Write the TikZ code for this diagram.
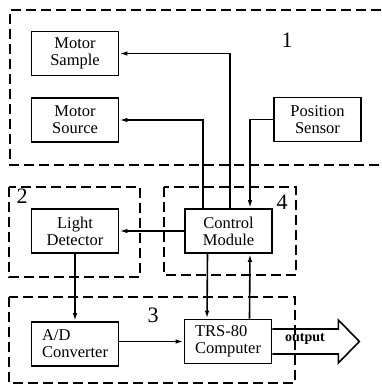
\documentclass[tikz,border=0pt]{standalone}
\usepackage{fontspec}
\setmainfont{Liberation Serif}
\usetikzlibrary{arrows.meta}
\tikzset{block/.style={draw,line width=1.7pt,align=center,minimum width=87pt,minimum height=44pt,inner sep=1pt,font=\fontsize{16.5}{17}\selectfont},
group/.style={draw,dash pattern=on 10pt off 5pt,line width=1.5pt},
tag/.style={font=\fontsize{22}{22}\selectfont}}

\begin{document}
\begin{tikzpicture}[x=1pt,y=-1pt,line width=1.6pt,>={Latex[length=8pt,width=4.5pt]}]
\useasboundingbox (0,0) rectangle (381,386);
% dashed groups
\draw[group](381,10)--(10,10)--(10,165)--(381,165);
\draw[group](9,187) rectangle (140,277);
\draw[group](164,187) rectangle (296,275);
\draw[group](9,297) rectangle (295,383);
\node[tag] (g1) at (287,40) {1};
\node[tag] (g2) at (22,196) {2};
\node[tag] (g3) at (153,315) {3};
\node[tag] (g4) at (282,202) {4};
% blocks
\node[block] (sample) at (75,53.5) {Motor\\Sample};
\node[block] (source) at (75,120) {Motor\\Source};
\node[block] (sensor) at (317.5,119.5) {Position\\Sensor};
\node[block] (detector) at (75,231) {Light\\Detector};
\node[block] (control) at (228.5,231) {Control\\Module};
\node[block,align=left] (adconv) at (75,344) {A/D\\Converter};
\node[block,align=left] (computer) at (228,341.5) {TRS-80\\Computer};
% connections
\draw[->] ([xshift=1.5pt]control.north) |- (sample.east);
\draw[->] ([xshift=-25.5pt]control.north) |- (source.east);
\draw[->] (sensor.west) -| ([xshift=21.5pt]control.north);
\draw[->] (control.west) -- (detector.east);
\draw[->] (detector.south) -- (adconv.north);
\draw[->] (adconv.east |- computer) -- (computer.west);
\draw[->] ([xshift=-21pt]control.south) -- ([xshift=-21pt]computer.north);
\draw[->] ([xshift=21.5pt]computer.north) -- ([xshift=21.5pt]control.south);
% output arrow
\draw (computer.east) ++(0,-12.5) -- ++(66,0) -- ++(0,-9) -- ++(21,21.5) -- ++(-21,21.5) -- ++(0,-9) -- ++(-66,0);
\node[font=\bfseries\fontsize{14}{14}\selectfont] (output) at (305,339) {output};
\end{tikzpicture}
\end{document}
